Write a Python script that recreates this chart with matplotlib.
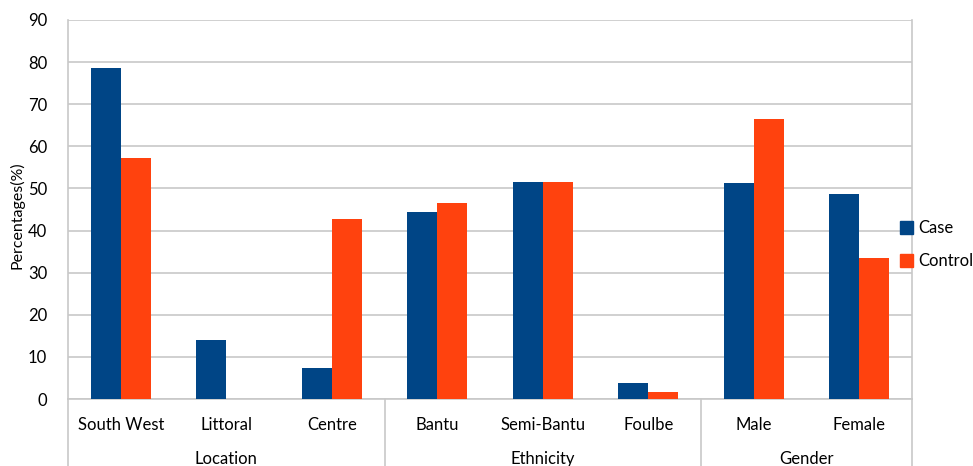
import numpy as np
import matplotlib
matplotlib.use("Agg")
import matplotlib.pyplot as plt
from matplotlib.patches import Patch

plt.rcParams['font.family'] = ['Lato', 'DejaVu Sans']

categories = ["South West", "Littoral", "Centre", "Bantu", "Semi-Bantu",
              "Foulbe", "Male", "Female"]
groups = ["Location", "Ethnicity", "Gender"]
group_sizes = [3, 3, 2]
case = [78.6, 14.0, 7.4, 44.5, 51.6, 3.7, 51.2, 48.6]
control = [57.2, 0.0, 42.8, 46.6, 51.6, 1.6, 66.4, 33.5]

case_color = "#004586"
control_color = "#ff420e"
grid_color = "#c8c8c8"

fig = plt.figure(figsize=(9.73, 4.66), dpi=100)
ax = fig.add_axes([68 / 973, 67 / 466, 844 / 973, 379 / 466])

x = np.arange(len(categories))
w = 0.285
ax.bar(x - w / 2, case, w, color=case_color, zorder=3)
ax.bar(x + w / 2, control, w, color=control_color, zorder=3)

ax.set_xlim(-0.5, len(categories) - 0.5)
ax.set_ylim(0, 90)
ax.set_yticks(range(0, 91, 10))
ax.yaxis.grid(True, color=grid_color, linewidth=1.2, zorder=0)
ax.tick_params(axis='y', length=0, labelsize=12, pad=15)
ax.tick_params(axis='x', length=0, labelsize=12, pad=13)
ax.set_xticks(x)
ax.set_xticklabels(categories)

ax.spines['top'].set_visible(False)
for s in ['left', 'right', 'bottom']:
    ax.spines[s].set_color(grid_color)
    ax.spines[s].set_linewidth(1.2)

ax.set_ylabel("Percentages(%)", fontsize=11.5)
ax.yaxis.set_label_coords(-0.052, 0.485)

# two-level x axis: separators and group names
trans = ax.get_xaxis_transform()
edges = np.concatenate([[0], np.cumsum(group_sizes)]) - 0.5
for e in edges:
    ax.plot([e, e], [0, -0.19], transform=trans, color=grid_color,
            linewidth=1.2, clip_on=False)
for i, g in enumerate(groups):
    mid = (edges[i] + edges[i + 1]) / 2
    ax.text(mid, -0.157, g, transform=trans, ha='center', va='center',
            fontsize=12)

handles = [Patch(color=case_color, label="Case"),
           Patch(color=control_color, label="Control")]
fig.legend(handles=handles, loc='center left', bbox_to_anchor=(0.918, 0.475),
           frameon=False, fontsize=12, handlelength=0.8, handleheight=0.8,
           handletextpad=0.3, labelspacing=1.0, borderaxespad=0)

fig.savefig("out.png", dpi=100)
